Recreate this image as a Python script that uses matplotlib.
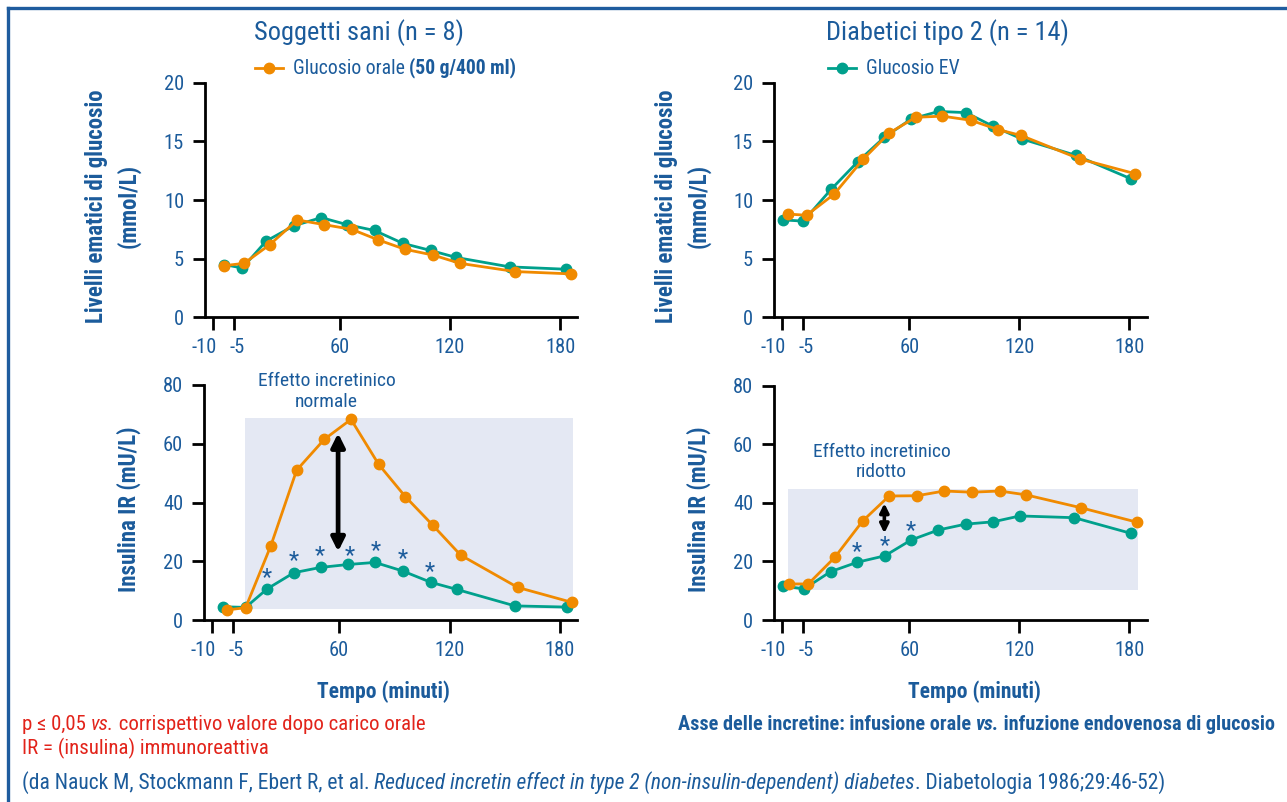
import matplotlib
matplotlib.use("Agg")
import matplotlib.pyplot as plt
from matplotlib import font_manager
from matplotlib.lines import Line2D
from matplotlib.patches import Rectangle
from matplotlib.transforms import ScaledTranslation

# ---------------- data ----------------
# Healthy subjects – plasma glucose (mmol/L)
t_ht_oral = [-3, 8, 22, 37, 51.5, 66.5, 81, 95.5, 111, 125.5, 155.5, 186]
g_ht_oral = [4.4, 4.6, 6.2, 8.3, 7.9, 7.5, 6.6, 5.8, 5.3, 4.6, 3.9, 3.7]
t_ht_iv = [-3, 7, 20, 35, 50, 64, 79, 94.5, 109.5, 123.5, 152.5, 183]
g_ht_iv = [4.5, 4.2, 6.5, 7.8, 8.5, 7.9, 7.4, 6.3, 5.7, 5.1, 4.3, 4.1]
# Healthy subjects – IR insulin (mU/L)
t_hi_oral = [-1, 9.3, 23, 37, 52, 66.5, 81.5, 96, 111, 126, 157, 186.5]
i_hi_oral = [3.4, 4.2, 25.3, 51, 61.5, 68.3, 53, 42, 32.2, 22.1, 11.1, 6.0]
t_hi_iv = [-3, 9.3, 21, 35.5, 50, 65, 79.5, 94.5, 110, 124, 155.5, 183.5]
i_hi_iv = [4.5, 4.3, 10.6, 16.1, 17.9, 18.9, 19.6, 16.7, 12.8, 10.4, 4.8, 4.4]
# Type 2 diabetics – plasma glucose
t_dg_oral = [-6, 4, 19, 35, 49, 63.5, 78, 93.5, 108.5, 121, 153, 183]
g_dg_oral = [8.8, 8.7, 10.5, 13.5, 15.7, 17.05, 17.15, 16.8, 16.0, 15.5, 13.5, 12.25]
t_dg_iv = [-8.7, 2.2, 17.3, 31.8, 46.4, 61, 76, 91, 105.5, 121.5, 151, 181]
g_dg_iv = [8.3, 8.2, 10.9, 13.25, 15.35, 16.9, 17.55, 17.45, 16.3, 15.2, 13.8, 11.8]
# Type 2 diabetics – IR insulin
t_di_oral = [-5.4, 4.9, 19.4, 34.6, 49, 64.3, 79, 94, 109.4, 123.6, 153.6, 184]
i_di_oral = [12.3, 12.3, 21.4, 33.8, 42.3, 42.4, 44.0, 43.6, 44.0, 42.7, 38.3, 33.4]
t_di_iv = [-8.7, 2.6, 17.1, 31.6, 46.7, 61, 75.8, 90.7, 105.8, 120.3, 150, 180.7]
i_di_iv = [11.6, 10.6, 16.5, 19.7, 21.9, 27.3, 30.7, 32.7, 33.5, 35.5, 34.9, 29.6]

# significance asterisks (time, level)
star_h_t = [20.7, 35.2, 49.7, 65.6, 79.7, 94.6, 109.4]
star_h_y = [15.7, 21.6, 23.3, 23.3, 25.0, 22.1, 17.6]
star_d_t = [31.3, 46.4, 60.9]
star_d_y = [24.5, 26.7, 31.8]

xtick_labels = ["-10", "-5", "60", "120", "180"]
glu_ticks = [0, 5, 10, 15, 20]
ins_ticks = [0, 20, 40, 60, 80]

titles = ["Soggetti sani (n = 8)", "Diabetici tipo 2 (n = 14)"]

# ---------------- style ----------------
names = {f.name for f in font_manager.fontManager.ttflist}
base = None
for cand in ["Roboto Condensed", "Liberation Sans Narrow", "Open Sans Condensed", "Liberation Sans"]:
    if cand in names:
        base = cand
        break
FAM = [base, "DejaVu Sans"]
plt.rcParams["font.family"] = FAM

BLUE = "#1b5b9b"
RED = "#e2231a"
ORANGE = "#f08a00"
TEAL = "#00a08c"
SHADE = "#e4e8f3"

W, H = 1287, 802
fig = plt.figure(figsize=(W / 100, H / 100), dpi=100)


def fx(px):
    return px / W


def fy(py):
    return 1 - py / H


def make_ax(x0, x1, ytop, ybot):
    return fig.add_axes([fx(x0), fy(ybot), fx(x1) - fx(x0), fy(ytop) - fy(ybot)])


ax_hg = make_ax(205, 577, 82.7, 317.3)
ax_hi = make_ax(204, 577, 385, 620)
ax_dg = make_ax(774, 1146.5, 82.7, 317.3)
ax_di = make_ax(774, 1146.5, 385.5, 620)


def style(ax, xlim, xticks, ylim, yticks):
    ax.set_xlim(*xlim)
    ax.set_ylim(*ylim)
    ax.set_xticks(xticks)
    ax.set_xticklabels(xtick_labels)
    ax.set_yticks(yticks)
    ax.set_yticklabels([str(v) for v in yticks])
    for s in ["top", "right"]:
        ax.spines[s].set_visible(False)
    for s in ["left", "bottom"]:
        ax.spines[s].set_linewidth(2.0)
        ax.spines[s].set_capstyle("projecting")
    ax.tick_params(axis="both", length=9, width=2.0, color="black",
                   labelcolor=BLUE, labelsize=14.8)
    ax.tick_params(axis="y", pad=6)
    ax.tick_params(axis="x", pad=6)
    ax.patch.set_visible(False)
    labs = ax.get_xticklabels()
    labs[0].set_transform(labs[0].get_transform() + ScaledTranslation(-9 / 100, 0, fig.dpi_scale_trans))
    labs[1].set_transform(labs[1].get_transform() + ScaledTranslation(3 / 100, 0, fig.dpi_scale_trans))


xl_left = (-13.3, 189.2)
xl_right = (-13.8, 189.4)
xt_left = [-9.0, 2.4, 60, 120, 180]
xt_right = [-9.6, 2.2, 60, 120, 180]

style(ax_hg, xl_left, xt_left, (0, 20), glu_ticks)
style(ax_hi, xl_left, xt_left, (0, 80), ins_ticks)
style(ax_dg, xl_right, xt_right, (0, 20), glu_ticks)
style(ax_di, xl_right, xt_right, (0, 80), ins_ticks)

lkw = dict(lw=2.0, marker="o", markersize=7.5, clip_on=False)

# glucose panels
ax_hg.plot(t_ht_iv, g_ht_iv, color=TEAL, zorder=3, **lkw)
ax_hg.plot(t_ht_oral, g_ht_oral, color=ORANGE, zorder=4, **lkw)
ax_dg.plot(t_dg_iv, g_dg_iv, color=TEAL, zorder=3, **lkw)
ax_dg.plot(t_dg_oral, g_dg_oral, color=ORANGE, zorder=4, **lkw)

# insulin panels
ax_hi.add_patch(Rectangle((9.0, 3.9), 186.9 - 9.0, 68.7 - 3.9, facecolor=SHADE,
                          edgecolor="none", zorder=0))
ax_di.add_patch(Rectangle((-6.0, 10.2), 184.8 + 6.0, 44.7 - 10.2, facecolor=SHADE,
                          edgecolor="none", zorder=0))
ax_hi.plot(t_hi_iv, i_hi_iv, color=TEAL, zorder=3, **lkw)
ax_hi.plot(t_hi_oral, i_hi_oral, color=ORANGE, zorder=4, **lkw)
ax_di.plot(t_di_iv, i_di_iv, color=TEAL, zorder=3, **lkw)
ax_di.plot(t_di_oral, i_di_oral, color=ORANGE, zorder=4, **lkw)

for t, y in zip(star_h_t, star_h_y):
    ax_hi.text(t, y - 1.2, "*", color=BLUE, fontsize=17,
               ha="center", va="center", zorder=5)
for t, y in zip(star_d_t, star_d_y):
    ax_di.text(t, y - 1.2, "*", color=BLUE, fontsize=17,
               ha="center", va="center", zorder=5)

# double arrows
ax_hi.annotate("", xy=(59.5, 63.6), xytext=(59.5, 23.3),
               arrowprops=dict(arrowstyle="<|-|>", lw=3.4, color="black",
                               mutation_scale=20, shrinkA=0, shrinkB=0), zorder=6)
ax_di.annotate("", xy=(46.4, 39.8), xytext=(46.4, 29.6),
               arrowprops=dict(arrowstyle="<|-|>", lw=2.6, color="black",
                               mutation_scale=13, shrinkA=0, shrinkB=0), zorder=6)

ax_hi.text(53.2, 77.8, "Effetto incretinico\nnormale", color=BLUE, fontsize=14,
           ha="center", va="center", linespacing=1.15)
ax_di.text(44.9, 53.9, "Effetto incretinico\nridotto", color=BLUE, fontsize=14,
           ha="center", va="center", linespacing=1.15)

# axis labels
ylab_kw = dict(color=BLUE, fontsize=16.5, fontweight="bold", rotation=90,
               ha="center", va="center", multialignment="center", linespacing=1.45)
fig.text(fx(113), fy(206), "Livelli ematici di glucosio\n(mmol/L)", **ylab_kw)
fig.text(fx(683), fy(206), "Livelli ematici di glucosio\n(mmol/L)", **ylab_kw)
fig.text(fx(129), fy(509), "Insulina IR (mU/L)", **ylab_kw)
fig.text(fx(699), fy(509), "Insulina IR (mU/L)", **ylab_kw)
fig.text(fx(383), fy(692), "Tempo (minuti)", color=BLUE, fontsize=15.5,
         fontweight="bold", ha="center", va="center")
fig.text(fx(974), fy(692), "Tempo (minuti)", color=BLUE, fontsize=15.5,
         fontweight="bold", ha="center", va="center")

# titles
fig.text(fx(359), fy(33), titles[0], color=BLUE, fontsize=19, ha="center", va="center")
fig.text(fx(948), fy(33), titles[1], color=BLUE, fontsize=19, ha="center", va="center")

# legend entries
fig.add_artist(Line2D([fx(255), fx(269), fx(283)], [fy(68)] * 3, color=ORANGE, lw=2.0,
                      marker="o", markersize=7.5, markevery=[1], transform=fig.transFigure))
fig.add_artist(Line2D([fx(828), fx(842), fx(856)], [fy(68)] * 3, color=TEAL, lw=2.0,
                      marker="o", markersize=7.5, markevery=[1], transform=fig.transFigure))

renderer = fig.canvas.get_renderer()


def pieces(x_px, y_px, parts, color, size):
    x = x_px
    for txt, kw in parts:
        t = fig.text(fx(x), fy(y_px), txt, color=color, fontsize=size,
                     ha="left", va="center", **kw)
        bb = t.get_window_extent(renderer=renderer)
        x += bb.width


pieces(293, 68, [("Glucosio orale ", {}), ("(50 g/400 ml)", {"fontweight": "bold"})], BLUE, 14.2)
pieces(866, 68, [("Glucosio EV", {})], BLUE, 14.2)

pieces(22, 724, [("p ≤ 0,05 ", {}), ("vs.", {"style": "italic"}),
                 (" corrispettivo valore dopo carico orale", {})], RED, 15)
pieces(22, 748, [("IR = (insulina) immunoreattiva", {})], RED, 15)
pieces(678, 724, [("Asse delle incretine: infusione orale ", {"fontweight": "bold"}),
                  ("vs.", {"fontweight": "bold", "style": "italic"}),
                  (" infuzione endovenosa di glucosio", {"fontweight": "bold"})], BLUE, 14.6)
pieces(22, 783, [("(da Nauck M, Stockmann F, Ebert R, et al. ", {}),
                 ("Reduced incretin effect in type 2 (non-insulin-dependent) diabetes", {"style": "italic"}),
                 (". Diabetologia 1986;29:46-52)", {})], BLUE, 15.5)

# frame (top and left lines)
fig.add_artist(Line2D([fx(8), fx(8)], [fy(8), fy(802)], color="#1f5c9e", lw=2.4,
                      transform=fig.transFigure))
fig.add_artist(Line2D([fx(8), fx(1287)], [fy(8), fy(8)], color="#1f5c9e", lw=2.4,
                      transform=fig.transFigure))

fig.savefig("out.png", dpi=100)
